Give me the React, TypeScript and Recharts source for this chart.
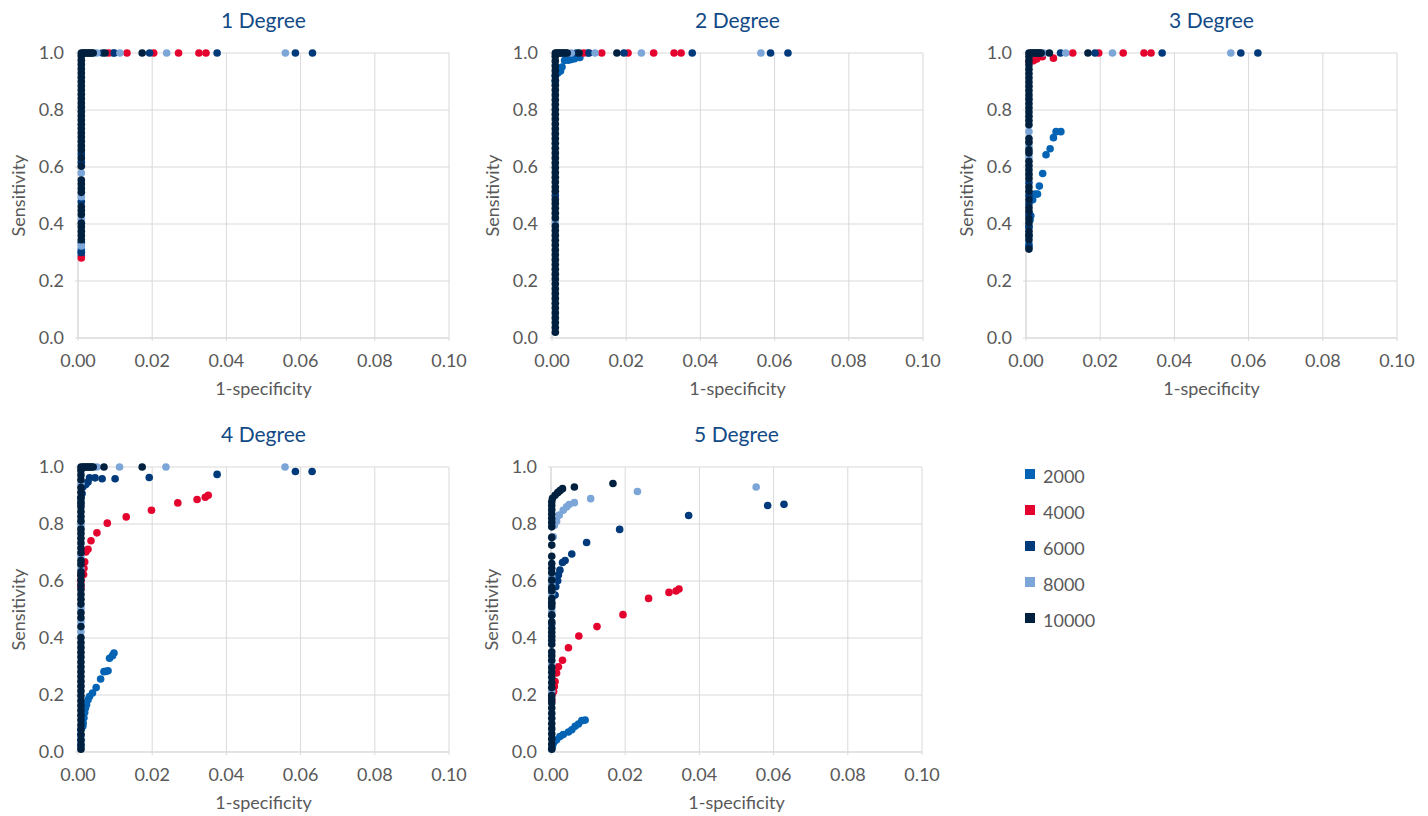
import { ScatterChart, Scatter, XAxis, YAxis, CartesianGrid } from "recharts";

type Pair = [number, number];

const SERIES = ["2000", "4000", "6000", "8000", "10000"];
const COLORS = ["#0563B4", "#E4032E", "#003A7A", "#7BA6D7", "#00203F"];
const X_TICKS = [0, 0.02, 0.04, 0.06, 0.08, 0.1];
const Y_TICKS = [0, 0.2, 0.4, 0.6, 0.8, 1];
const TITLES = ["1 Degree", "2 Degree", "3 Degree", "4 Degree", "5 Degree"];

// 1-specificity at which the stacked thresholds sit, per panel
const COLUMN_X = [0.0009, 0.0009, 0.0008, 0.0008, 0.0002];
// dense run of 10000 points along sensitivity = 1 (panels 1-4)
const TOP_BAR_X = [0.0013, 0.0017, 0.0021, 0.0025, 0.0029, 0.0033, 0.0037, 0.0041];

// ---- 1 Degree
const d1c2000 = [0.29, 0.3, 0.31];
const d1p2000: Pair[] = [[0.0095, 1]];
const d1c4000 = [0.281];
const d1p4000: Pair[] = [[0.0083, 1], [0.0132, 1], [0.0204, 1], [0.0271, 1], [0.0326, 1], [0.0345, 1]];
const d1c6000 = [0.3, 0.335, 0.478, 0.617, 0.646];
const d1p6000: Pair[] = [[0.0066, 1], [0.0098, 1], [0.0193, 1], [0.0375, 1], [0.0586, 1], [0.0632, 1]];
const d1c8000 = [0.323, 0.418, 0.496, 0.579];
const d1p8000: Pair[] = [[0.0051, 1], [0.0113, 1], [0.0239, 1], [0.0559, 1]];
const d1c10000 = [0.345, 0.36, 0.375, 0.39, 0.403, 0.433, 0.447, 0.461, 0.511, 0.525, 0.54, 0.554, 0.603, 0.632, 0.66, 0.675, 0.69, 0.705, 0.72, 0.735, 0.75, 0.765, 0.78, 0.795, 0.81, 0.825, 0.84, 0.855, 0.87, 0.885, 0.9, 0.915, 0.93, 0.945, 0.96, 0.975, 0.99, 1];
const d1p10000: Pair[] = [[0.0073, 1], [0.0173, 1]];

// ---- 2 Degree
const d2c2000 = [0.9, 0.92];
const d2p2000: Pair[] = [[0.0016, 0.93], [0.0023, 0.937], [0.0027, 0.951], [0.0034, 0.974], [0.0044, 0.975], [0.0052, 0.977], [0.0061, 0.98], [0.0075, 0.984], [0.0096, 1]];
const d2c4000: number[] = [];
const d2p4000: Pair[] = [[0.0085, 1], [0.0134, 1], [0.0205, 1], [0.0274, 1], [0.0329, 1], [0.0348, 1]];
const d2c6000 = [0.5];
const d2p6000: Pair[] = [[0.0066, 1], [0.01, 1], [0.0194, 1], [0.0378, 1], [0.0589, 1], [0.0636, 1]];
const d2c8000 = [0.407];
const d2p8000: Pair[] = [[0.0052, 1], [0.0116, 1], [0.0241, 1], [0.0563, 1]];
const d2c10000 = [0.02, 0.037, 0.054, 0.071, 0.088, 0.105, 0.122, 0.139, 0.156, 0.173, 0.19, 0.207, 0.224, 0.241, 0.258, 0.275, 0.292, 0.309, 0.326, 0.343, 0.36, 0.377, 0.393, 0.421, 0.438, 0.455, 0.472, 0.486, 0.515, 0.53, 0.547, 0.564, 0.581, 0.598, 0.615, 0.632, 0.649, 0.666, 0.683, 0.7, 0.717, 0.734, 0.751, 0.768, 0.785, 0.802, 0.819, 0.836, 0.853, 0.87, 0.887, 0.904, 0.921, 0.938, 0.955, 0.972, 0.989, 1];
const d2p10000: Pair[] = [[0.0073, 1], [0.0175, 1]];

// ---- 3 Degree
const d3c2000 = [0.33, 0.36, 0.39];
const d3p2000: Pair[] = [[0.0011, 0.415], [0.0013, 0.429], [0.0018, 0.485], [0.0024, 0.505], [0.0031, 0.505], [0.0036, 0.533], [0.0045, 0.577], [0.0054, 0.643], [0.0065, 0.664], [0.0074, 0.703], [0.0081, 0.724], [0.0094, 0.724]];
const d3c4000 = [0.97];
const d3p4000: Pair[] = [[0.002, 0.973], [0.0029, 0.979], [0.0044, 0.987], [0.0074, 0.982], [0.0126, 1], [0.0196, 1], [0.0262, 1], [0.0318, 1], [0.0337, 1]];
const d3c6000 = [0.321, 0.39, 0.431, 0.471, 0.5, 0.545];
const d3p6000: Pair[] = [[0.0093, 1], [0.0186, 1], [0.0367, 1], [0.0579, 1], [0.0625, 1]];
const d3c8000 = [0.634, 0.673, 0.724];
const d3p8000: Pair[] = [[0.0048, 1], [0.0107, 1], [0.0233, 1], [0.0552, 1]];
const d3c10000 = [0.312, 0.345, 0.36, 0.375, 0.404, 0.418, 0.445, 0.458, 0.485, 0.515, 0.53, 0.56, 0.575, 0.59, 0.605, 0.62, 0.649, 0.66, 0.687, 0.7, 0.748, 0.763, 0.778, 0.793, 0.808, 0.823, 0.838, 0.853, 0.868, 0.883, 0.898, 0.913, 0.928, 0.943, 0.958, 0.973, 0.988, 1];
const d3p10000: Pair[] = [[0.0063, 1], [0.0167, 1]];

// ---- 4 Degree
const d4c2000 = [0.02, 0.04, 0.06, 0.08];
const d4p2000: Pair[] = [[0.0013, 0.09], [0.0014, 0.102], [0.0016, 0.12], [0.0018, 0.139], [0.002, 0.154], [0.0023, 0.166], [0.0027, 0.183], [0.0031, 0.195], [0.0039, 0.207], [0.0049, 0.226], [0.0061, 0.256], [0.007, 0.282], [0.0076, 0.283], [0.0081, 0.285], [0.0085, 0.329], [0.0093, 0.338], [0.0097, 0.347]];
const d4c4000 = [0.58, 0.6, 0.62];
const d4p4000: Pair[] = [[0.0015, 0.623], [0.0016, 0.645], [0.0018, 0.667], [0.0021, 0.702], [0.0027, 0.711], [0.0035, 0.741], [0.0051, 0.769], [0.0079, 0.803], [0.013, 0.825], [0.0198, 0.848], [0.0269, 0.874], [0.0321, 0.886], [0.0343, 0.894], [0.0351, 0.901]];
const d4c6000 = [0.87, 0.89];
const d4p6000: Pair[] = [[0.0011, 0.907], [0.0013, 0.93], [0.0021, 0.939], [0.0027, 0.947], [0.0031, 0.962], [0.0046, 0.962], [0.0065, 0.959], [0.01, 0.959], [0.0192, 0.963], [0.0375, 0.974], [0.0586, 0.984], [0.0631, 0.984]];
const d4c8000 = [0.422, 0.457, 0.504, 0.644, 0.685, 0.796, 0.942];
const d4p8000: Pair[] = [[0.0051, 1], [0.0112, 1], [0.0237, 1], [0.0558, 1]];
const d4c10000 = [0.01, 0.027, 0.044, 0.061, 0.078, 0.095, 0.112, 0.129, 0.146, 0.163, 0.18, 0.197, 0.214, 0.231, 0.248, 0.265, 0.282, 0.299, 0.316, 0.333, 0.35, 0.367, 0.384, 0.402, 0.44, 0.471, 0.489, 0.519, 0.536, 0.553, 0.57, 0.587, 0.604, 0.62, 0.632, 0.659, 0.672, 0.699, 0.716, 0.733, 0.75, 0.767, 0.782, 0.81, 0.826, 0.843, 0.86, 0.877, 0.894, 0.911, 0.928, 0.955, 0.972, 0.988, 1];
const d4p10000: Pair[] = [[0.007, 1], [0.0173, 1]];

// ---- 5 Degree
const d5c2000 = [0.012];
const d5p2000: Pair[] = [[0.0004, 0.02], [0.0006, 0.031], [0.0009, 0.037], [0.0015, 0.043], [0.0024, 0.054], [0.0033, 0.061], [0.0047, 0.07], [0.0056, 0.078], [0.0065, 0.09], [0.0074, 0.098], [0.0083, 0.11], [0.0092, 0.112]];
const d5c4000 = [0.18, 0.2];
const d5p4000: Pair[] = [[0.0007, 0.212], [0.0009, 0.23], [0.0011, 0.247], [0.0015, 0.277], [0.002, 0.299], [0.0031, 0.322], [0.0047, 0.366], [0.0075, 0.407], [0.0124, 0.44], [0.0194, 0.482], [0.0263, 0.539], [0.0318, 0.56], [0.0337, 0.565], [0.0345, 0.572]];
const d5c6000 = [0.45, 0.48, 0.52];
const d5p6000: Pair[] = [[0.0011, 0.551], [0.0013, 0.58], [0.0018, 0.601], [0.002, 0.621], [0.0024, 0.638], [0.0031, 0.665], [0.0038, 0.672], [0.0056, 0.695], [0.0096, 0.735], [0.0185, 0.781], [0.0371, 0.83], [0.0584, 0.865], [0.0628, 0.869]];
const d5c8000 = [0.212, 0.309, 0.495, 0.557, 0.589, 0.615];
const d5p8000: Pair[] = [[0.0006, 0.755], [0.0009, 0.796], [0.0015, 0.81], [0.0022, 0.831], [0.0033, 0.848], [0.0042, 0.86], [0.0049, 0.868], [0.0063, 0.875], [0.0107, 0.889], [0.0233, 0.914], [0.0553, 0.93]];
const d5c10000 = [0.01, 0.028, 0.046, 0.064, 0.082, 0.1, 0.118, 0.136, 0.154, 0.172, 0.186, 0.198, 0.226, 0.244, 0.262, 0.28, 0.296, 0.322, 0.338, 0.352, 0.378, 0.392, 0.406, 0.42, 0.434, 0.457, 0.481, 0.51, 0.524, 0.538, 0.566, 0.577, 0.603, 0.63, 0.645, 0.661, 0.687, 0.726, 0.753, 0.79, 0.805, 0.82, 0.835, 0.85, 0.865, 0.878];
const d5p10000: Pair[] = [[0.0004, 0.89], [0.0011, 0.901], [0.0018, 0.91], [0.0024, 0.917], [0.0031, 0.924], [0.0063, 0.93], [0.0167, 0.942]];

const toPoints = (colX: number, col: number[], pts: Pair[], topBar: number[] = []) => [
  ...col.map((y) => ({ x: colX, y })),
  ...topBar.map((x) => ({ x, y: 1 })),
  ...pts.map(([x, y]) => ({ x, y })),
];

const PANELS = [
  [
    toPoints(COLUMN_X[0], d1c2000, d1p2000),
    toPoints(COLUMN_X[0], d1c4000, d1p4000),
    toPoints(COLUMN_X[0], d1c6000, d1p6000),
    toPoints(COLUMN_X[0], d1c8000, d1p8000),
    toPoints(COLUMN_X[0], d1c10000, d1p10000, TOP_BAR_X),
  ],
  [
    toPoints(COLUMN_X[1], d2c2000, d2p2000),
    toPoints(COLUMN_X[1], d2c4000, d2p4000),
    toPoints(COLUMN_X[1], d2c6000, d2p6000),
    toPoints(COLUMN_X[1], d2c8000, d2p8000),
    toPoints(COLUMN_X[1], d2c10000, d2p10000, TOP_BAR_X),
  ],
  [
    toPoints(COLUMN_X[2], d3c2000, d3p2000),
    toPoints(COLUMN_X[2], d3c4000, d3p4000),
    toPoints(COLUMN_X[2], d3c6000, d3p6000),
    toPoints(COLUMN_X[2], d3c8000, d3p8000),
    toPoints(COLUMN_X[2], d3c10000, d3p10000, TOP_BAR_X),
  ],
  [
    toPoints(COLUMN_X[3], d4c2000, d4p2000),
    toPoints(COLUMN_X[3], d4c4000, d4p4000),
    toPoints(COLUMN_X[3], d4c6000, d4p6000),
    toPoints(COLUMN_X[3], d4c8000, d4p8000),
    toPoints(COLUMN_X[3], d4c10000, d4p10000, TOP_BAR_X),
  ],
  [
    toPoints(COLUMN_X[4], d5c2000, d5p2000),
    toPoints(COLUMN_X[4], d5c4000, d5p4000),
    toPoints(COLUMN_X[4], d5c6000, d5p6000),
    toPoints(COLUMN_X[4], d5c8000, d5p8000),
    toPoints(COLUMN_X[4], d5c10000, d5p10000),
  ],
];

const POSITIONS = [
  { left: 0, top: 0 },
  { left: 474, top: 0 },
  { left: 948, top: 0 },
  { left: 0, top: 414 },
  { left: 473, top: 414 },
];

const FONT = "Lato, 'Open Sans', sans-serif";
const GRID = "#d9d9d9";
const TEXT = "#595959";
const TITLE = "#124A86";

function DegreeChart({ title, series }: { title: string; series: { x: number; y: number }[][] }) {
  return (
    <div style={{ position: "relative", width: 470, height: 405 }}>
      <div
        style={{
          position: "absolute",
          top: 7,
          left: 78,
          width: 371,
          textAlign: "center",
          fontSize: 21,
          lineHeight: "25px",
          color: TITLE,
        }}
      >
        {title}
      </div>
      <ScatterChart width={470} height={405} margin={{ top: 53, right: 21, bottom: 5, left: 0 }}>
        <CartesianGrid stroke={GRID} />
        <XAxis
          type="number"
          dataKey="x"
          domain={[0, 0.1]}
          ticks={X_TICKS}
          tickFormatter={(v: number) => v.toFixed(2)}
          height={62}
          axisLine={{ stroke: GRID }}
          tickLine={{ stroke: GRID }}
          tickSize={3}
          tickMargin={13}
          tick={{ fill: TEXT, fontSize: 18 }}
          label={{ value: "1-specificity", position: "insideBottom", offset: 5, fill: TEXT, fontSize: 18 }}
        />
        <YAxis
          type="number"
          dataKey="y"
          domain={[0, 1]}
          ticks={Y_TICKS}
          tickFormatter={(v: number) => v.toFixed(1)}
          width={78}
          axisLine={{ stroke: GRID }}
          tickLine={{ stroke: GRID }}
          tickSize={3}
          tickMargin={11}
          tick={{ fill: TEXT, fontSize: 18 }}
          label={{
            value: "Sensitivity",
            angle: -90,
            position: "insideLeft",
            offset: 19,
            fill: TEXT,
            fontSize: 18,
            style: { textAnchor: "middle" },
          }}
        />
        {series.map((data, i) => (
          <Scatter
            key={SERIES[i]}
            name={SERIES[i]}
            data={data}
            fill={COLORS[i]}
            isAnimationActive={false}
            shape={(p: any) => <circle cx={p.cx} cy={p.cy} r={3.8} fill={COLORS[i]} />}
          />
        ))}
      </ScatterChart>
    </div>
  );
}

export default function App() {
  return (
    <div
      style={{
        position: "absolute",
        left: 0,
        top: 0,
        width: 1428,
        height: 816,
        background: "#fff",
        fontFamily: FONT,
      }}
    >
      {PANELS.map((series, i) => (
        <div key={TITLES[i]} style={{ position: "absolute", ...POSITIONS[i] }}>
          <DegreeChart title={TITLES[i]} series={series} />
        </div>
      ))}
      <div style={{ position: "absolute", left: 1025, top: 464 }}>
        {SERIES.map((name, i) => (
          <div key={name} style={{ display: "flex", alignItems: "center", height: 20, marginBottom: 16.1 }}>
            <div style={{ width: 10, height: 10, background: COLORS[i], marginRight: 8 }} />
            <span style={{ fontSize: 18, color: TEXT, paddingTop: 3 }}>{name}</span>
          </div>
        ))}
      </div>
    </div>
  );
}
